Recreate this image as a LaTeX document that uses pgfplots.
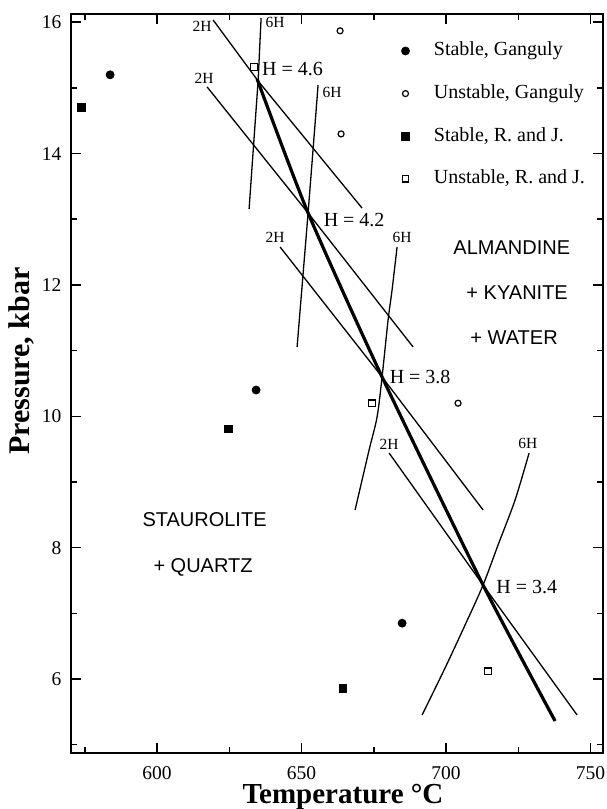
\documentclass[border=0pt]{standalone}
\usepackage{pgfplots}
\pgfplotsset{compat=1.18}
\usepackage{fontspec}
\setmainfont{Liberation Serif}
\newfontfamily\helv{Liberation Sans}

\begin{document}
\begin{tikzpicture}
\begin{axis}[
  name=ax,
  scale only axis,
  width=266.15pt, height=369.5pt,
  xmin=570.1, xmax=754.3,
  ymin=4.873, ymax=16.126,
  xtick={600,650,700,750},
  minor xtick={575,625,675,725},
  ytick={6,8,10,12,14,16},
  minor ytick={5,7,9,11,13,15},
  major tick length=5pt, minor tick length=3pt,
  every tick/.style={black, line width=0.8pt},
  axis line style={line width=0.85pt},
  tick label style={font=\fontsize{9.75}{12}\selectfont},
  /pgf/number format/assume math mode=true,
  yticklabel style={xshift=-1.1pt},
  xticklabel style={yshift=-3pt},
  xlabel={Temperature °C},
  ylabel={Pressure, kbar},
  every axis x label/.style={at={(axis description cs:0.322,-0.069)}, anchor=base west, inner sep=0pt, font=\bfseries\fontsize{14.5}{17}\selectfont},
  every axis y label/.style={at={(axis description cs:-0.0774,0.4032)}, anchor=base west, rotate=90, inner sep=0pt, font=\bfseries\fontsize{15}{18}\selectfont},
  legend image code/.code={\path (0pt,0pt) (6pt,0pt); \draw[#1] plot coordinates {(3pt,0pt)};},
  legend style={draw=none, fill=none, inner sep=0pt, outer sep=0pt,
    at={(axis cs:683.74,15.70)}, anchor=north west,
    row sep=12.3pt, column sep=11pt,
    nodes={inner sep=0pt, text height=7pt, text depth=2pt, font=\fontsize{10}{12}\selectfont}},
  legend cell align=left,
]
% data points
\addplot[only marks, mark=*, mark size=2pt, black]
  coordinates {(583.74,15.20) (634.26,10.40) (684.78,6.85)};
\addlegendentry{Stable, Ganguly}
\addplot[only marks, mark=o, mark size=1.5pt, black, mark options={line width=0.6pt}]
  coordinates {(663.32,15.87) (663.67,14.30) (704.15,10.20)};
\addlegendentry{Unstable, Ganguly}
\addplot[only marks, mark=square*, mark size=1.9pt, black]
  coordinates {(573.70,14.70) (624.57,9.81) (664.36,5.86)};
\addlegendentry{Stable, R. and J.}
\addplot[only marks, mark=square, mark size=1.6pt, black, mark options={line width=0.6pt}]
  coordinates {(633.56,15.32) (674.39,10.20) (714.53,6.12)};
\addlegendentry{Unstable, R. and J.}

% 2H and 6H lines
\addplot[black, line width=0.65pt, forget plot] coordinates {(619.38,16.035) (634.95,15.106) (670.93,13.17)};
\addplot[black, line width=0.65pt, forget plot] coordinates {(635.99,16.065) (634.95,15.106) (631.83,13.157)};
\addplot[black, line width=0.65pt, forget plot] coordinates {(617.30,15.015) (652.25,13.096) (688.58,11.056)};
\addplot[black, line width=0.65pt, forget plot] coordinates {(655.71,15.045) (652.25,13.096) (648.44,11.056)};
\addplot[black, line width=0.65pt, forget plot] coordinates {(642.56,12.578) (677.85,10.599) (712.80,8.574)};
\addplot[black, line width=0.65pt, smooth, forget plot] coordinates {(683.04,12.578) (681.31,11.924) (679.93,11.467) (677.85,10.599) (676.12,9.990) (673.36,9.487) (668.51,8.574)};
\addplot[black, line width=0.65pt, forget plot] coordinates {(680.28,9.441) (712.80,7.431) (745.33,5.452)};
\addplot[black, line width=0.65pt, smooth, forget plot] coordinates {(728.72,9.441) (723.88,8.726) (717.99,8.041) (712.80,7.431) (706.57,6.822) (699.65,6.168) (691.70,5.452)};
% bold curve through the H points
\addplot[black, line width=1.6pt, smooth, tension=0.4, forget plot] coordinates {(634.60,15.137) (652.25,13.096) (677.85,10.599) (712.80,7.431) (737.72,5.360)};

% labels
\begin{scope}[every node/.style={inner sep=0pt, font=\fontsize{7.75}{9}\selectfont}]
\node at (axis cs:615.57,15.944) {2H};
\node at (axis cs:640.83,15.990) {6H};
\node at (axis cs:616.26,15.152) {2H};
\node at (axis cs:660.55,14.939) {6H};
\node at (axis cs:640.83,12.731) {2H};
\node at (axis cs:684.78,12.731) {6H};
\node at (axis cs:680.28,9.571) {2H};
\node at (axis cs:728.30,9.594) {6H};
\end{scope}
\begin{scope}[every node/.style={inner sep=0pt, anchor=west, font=\fontsize{10}{12}\selectfont}]
\node at (axis cs:636.23,15.289) {H = 4.6};
\node at (axis cs:657.54,12.990) {H = 4.2};
\node at (axis cs:680.38,10.603) {H = 3.8};
\node at (axis cs:717.30,7.400) {H = 3.4};
\end{scope}
\begin{scope}[every node/.style={inner sep=0pt, anchor=base west, font=\helv\fontsize{10}{12}\selectfont}]
\node at (axis cs:702.42,12.457) {ALMANDINE};
\node at (axis cs:706.92,11.771) {+ KYANITE};
\node at (axis cs:708.30,11.086) {+ WATER};
\node at (axis cs:594.81,8.315) {STAUROLITE};
\node at (axis cs:598.62,7.629) {+ QUARTZ};
\end{scope}
\end{axis}
\pgfresetboundingbox
\path[use as bounding box] ([shift={(-35.35pt,-28pt)}]ax.south west) rectangle ([shift={(2pt,7pt)}]ax.north east);
\end{tikzpicture}
\end{document}
